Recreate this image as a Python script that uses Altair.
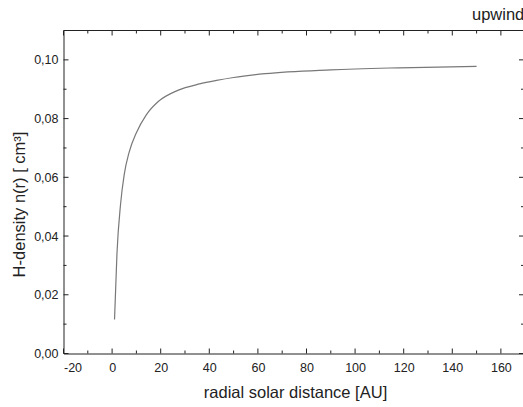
import altair as alt
import pandas as pd

# Hydrogen density along the upwind direction
r_au = [1, 2, 3.5, 5, 7, 10, 14, 19, 27, 36, 43, 50, 63, 90, 118, 150]
n_h = [0.0116, 0.034, 0.051, 0.061, 0.0685, 0.0752, 0.0812, 0.0858, 0.0896,
       0.0918, 0.0930, 0.0940, 0.0953, 0.0966, 0.0973, 0.0978]

x_major = [-20, 0, 20, 40, 60, 80, 100, 120, 140, 160]
x_minor = [-10, 10, 30, 50, 70, 90, 110, 130, 150]
y_major = [0.0, 0.02, 0.04, 0.06, 0.08, 0.10]
y_minor = [0.01, 0.03, 0.05, 0.07, 0.09]

W, H = 459.5, 323
FONT = "Liberation Sans"
INK = "#222222"

xs = alt.Scale(domain=[-20, 169.1], nice=False, zero=False)
ys = alt.Scale(domain=[0, 0.11], nice=False, zero=False)

xaxis = alt.Axis(
    values=x_major, ticks=False, tickSize=0, grid=False,
    labelExpr="'' + datum.value",
    labelFont=FONT, labelFontSize=12.5, labelColor=INK, labelPadding=8,
    domainColor=INK, domainWidth=1,
    title="radial solar distance [AU]", titleFont=FONT, titleFontSize=16.5,
    titleFontWeight="normal", titleColor=INK,
    titleY=43.5, titleBaseline="alphabetic", titleX=231.5, titleAlign="center",
)
yaxis = alt.Axis(
    values=y_major, ticks=False, tickSize=0, grid=False,
    labelExpr="replace(format(datum.value, '.2f'), '.', ',')",
    labelFont=FONT, labelFontSize=12.5, labelColor=INK, labelPadding=5.5,
    domainColor=INK, domainWidth=1,
    title="H-density n(r) [ cm³]", titleFont=FONT, titleFontSize=16.5,
    titleFontWeight="normal", titleColor=INK, titleAngle=270,
    titleX=-39.5, titleY=173.5, titleBaseline="alphabetic", titleAlign="center",
)

curve = alt.Chart(pd.DataFrame({"r": r_au, "n": n_h})).mark_line(
    color="#787878", strokeWidth=1.2, interpolate="monotone"
).encode(
    x=alt.X("r:Q", scale=xs, axis=xaxis),
    y=alt.Y("n:Q", scale=ys, axis=yaxis),
)


def xticks(values, y0, y1):
    return alt.Chart(pd.DataFrame({"r": values})).mark_rule(
        color=INK, strokeWidth=1
    ).encode(
        x=alt.X("r:Q", scale=xs, axis=xaxis),
        y=alt.value(y0), y2=alt.value(y1),
    )


def yticks(values, x0, x1):
    return alt.Chart(pd.DataFrame({"n": values})).mark_rule(
        color=INK, strokeWidth=1
    ).encode(
        y=alt.Y("n:Q", scale=ys, axis=yaxis),
        x=alt.value(x0), x2=alt.value(x1),
    )


# inward-pointing ticks on all four sides
ticks = [
    xticks(x_major, H, H - 5), xticks(x_minor, H, H - 3),
    xticks(x_major, 0, 5), xticks(x_minor, 0, 3),
    yticks(y_major, 0, 5), yticks(y_minor, 0, 3),
    yticks(y_major, W - 4, W), yticks(y_minor, W - 2, W),
]

top_frame = alt.Chart(pd.DataFrame({"a": [0]})).mark_rule(
    color=INK, strokeWidth=1
).encode(x=alt.value(0), x2=alt.value(W), y=alt.value(0))

label = alt.Chart(pd.DataFrame({"t": ["upwind"]})).mark_text(
    font=FONT, fontSize=16.5, color=INK, align="left", baseline="alphabetic"
).encode(text="t:N", x=alt.value(408.5), y=alt.value(-10.5))

chart = alt.layer(curve, *ticks, top_frame, label).properties(
    width=W, height=H,
    autosize=alt.AutoSizeParams(type="none"),
    padding={"left": 63.5, "top": 30.5, "right": 0, "bottom": 53.5},
    background="white",
).configure_view(stroke=None)

chart.save("out.html", embed_options={"renderer": "svg", "actions": False})
